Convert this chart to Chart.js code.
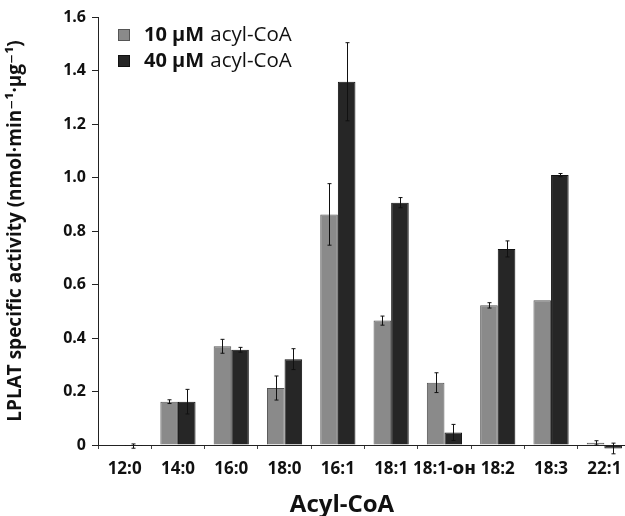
<!DOCTYPE html>
<html>
<head>
<meta charset="utf-8">
<script src="https://cdn.jsdelivr.net/npm/chart.js@4/dist/chart.umd.min.js"></script>
<style>
  html, body { margin: 0; padding: 0; background: #fff; overflow: hidden; }
  #wrap { position: absolute; left: 0; top: 0; width: 640px; height: 516px; }
</style>
</head>
<body>
<div id="wrap"><canvas id="c" width="640" height="516"></canvas></div>
<script>
const categories = ['12:0','14:0','16:0','18:0','16:1','18:1','18:1-\u1D0F\u029C','18:2','18:3','22:1'];
const series10 = [0, 0.162, 0.369, 0.213, 0.862, 0.465, 0.233, 0.522, 0.541, 0.008];
const err10    = [0, 0.007, 0.026, 0.045, 0.115, 0.017, 0.037, 0.010, 0, 0.008];
const series40 = [-0.004, 0.162, 0.356, 0.321, 1.358, 0.906, 0.047, 0.733, 1.009, -0.013];
const err40    = [0.008, 0.046, 0.009, 0.039, 0.146, 0.019, 0.030, 0.030, 0.006, 0.020];
const yTicks = [0, 0.2, 0.4, 0.6, 0.8, 1.0, 1.2, 1.4, 1.6];
const legendBold = ['10 \u00B5M', '40 \u00B5M'];
const legendRest = ['acyl-CoA', 'acyl-CoA'];
const xTitle = 'Acyl-CoA';

const FONT = "'Open Sans', 'DejaVu Sans', sans-serif";

const errorBars = {
  id: 'errorBars',
  afterDatasetsDraw(chart) {
    const ctx = chart.ctx;
    const y = chart.scales.y;
    ctx.save();
    ctx.strokeStyle = '#111';
    ctx.lineWidth = 1;
    chart.data.datasets.forEach((ds, di) => {
      const meta = chart.getDatasetMeta(di);
      meta.data.forEach((bar, i) => {
        const e = ds.errors[i];
        if (!e) return;
        const v = ds.data[i];
        const x = Math.round(bar.x) + 0.5;
        const yt = y.getPixelForValue(v + e);
        const yb = y.getPixelForValue(v - e);
        ctx.beginPath();
        ctx.moveTo(x, yt); ctx.lineTo(x, yb);
        ctx.moveTo(x - 2, yt); ctx.lineTo(x + 2, yt);
        ctx.moveTo(x - 2, yb); ctx.lineTo(x + 2, yb);
        ctx.stroke();
      });
    });
    ctx.restore();
  }
};

const customLegend = {
  id: 'customLegend',
  afterDraw(chart) {
    const ctx = chart.ctx;
    ctx.save();
    chart.data.datasets.forEach((ds, i) => {
      const bx = 118, by = 29 + i * 26;
      ctx.fillStyle = ds.backgroundColor;
      ctx.strokeStyle = ds.borderColor;
      ctx.lineWidth = 1;
      ctx.fillRect(bx, by, 12, 12);
      ctx.strokeRect(bx + 0.5, by + 0.5, 11, 11);
      ctx.fillStyle = '#111';
      ctx.textBaseline = 'middle';
      ctx.textAlign = 'left';
      ctx.font = "bold 20px " + FONT;
      ctx.fillText(legendBold[i], 144, by + 6);
      const w = ctx.measureText(legendBold[i] + ' ').width;
      ctx.font = "20.5px " + FONT;
      ctx.fillText(legendRest[i], 144 + w + 1, by + 6);
    });
    // x axis title, placed as in the reference
    ctx.font = "bold 24px " + FONT;
    ctx.textAlign = 'center';
    ctx.textBaseline = 'alphabetic';
    ctx.fillStyle = '#111';
    ctx.fillText(xTitle, 342, 512);
    ctx.restore();
  }
};

new Chart(document.getElementById('c'), {
  type: 'bar',
  data: {
    labels: categories,
    datasets: [
      { label: '10 \u00B5M acyl-CoA', data: series10, errors: err10, clip: false,
        backgroundColor: '#8a8a8a', borderColor: '#555', borderWidth: 1,
        categoryPercentage: 0.66, barPercentage: 1.0 },
      { label: '40 \u00B5M acyl-CoA', data: series40, errors: err40, clip: false,
        backgroundColor: '#262626', borderColor: '#111', borderWidth: 1,
        categoryPercentage: 0.66, barPercentage: 1.0 }
    ]
  },
  options: {
    responsive: false,
    animation: false,
    layout: { padding: { top: 17, right: 9, left: 0, bottom: 0 } },
    plugins: { legend: { display: false }, tooltip: { enabled: false } },
    scales: {
      x: {
        grid: { display: true, drawOnChartArea: false, offset: true, tickLength: 4, color: '#444' },
        border: { display: true, color: '#222', width: 1 },
        ticks: { color: '#111', font: { family: FONT, size: 17, weight: 'bold' }, padding: 10, maxRotation: 0, autoSkip: false },
        title: { display: false },
        afterFit(s) { s.height = 71; }
      },
      y: {
        min: 0, max: 1.6,
        afterBuildTicks(s) { s.ticks = yTicks.map(v => ({ value: v })); },
        grid: { display: true, drawOnChartArea: false, tickLength: 6, color: '#222' },
        border: { display: true, color: '#222', width: 1 },
        ticks: { color: '#111', font: { family: FONT, size: 16, weight: 'bold' }, padding: 6,
          callback: v => v === 0 ? '0' : v.toFixed(1) },
        title: { display: true, text: 'LPLAT specific activity (nmol\u00B7min\u207B\u00B9\u00B7\u00B5g\u207B\u00B9)', color: '#111',
          font: { family: FONT, size: 19, weight: 'bold' }, padding: { top: 4, bottom: 2 } },
        afterFit(s) { s.width = 98; }
      }
    }
  },
  plugins: [errorBars, customLegend]
});
</script>
</body>
</html>
